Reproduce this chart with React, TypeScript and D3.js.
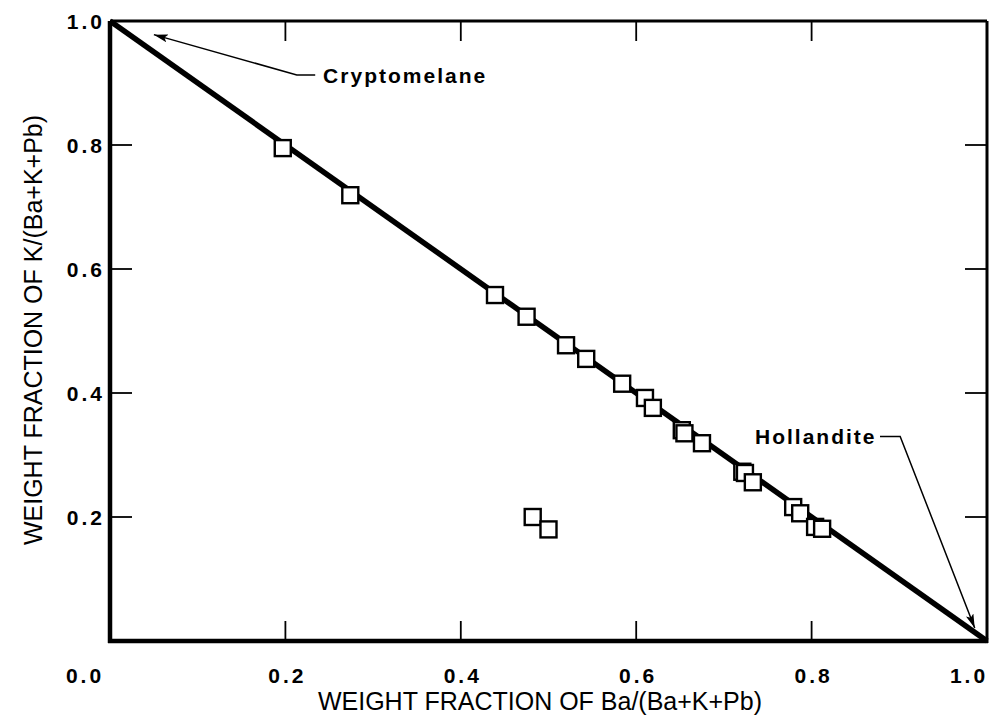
import * as d3 from "d3";

// measured points: weight fraction of Ba vs weight fraction of K
const baFraction = [
  0.197, 0.274, 0.439, 0.475, 0.52, 0.543, 0.584, 0.61, 0.619, 0.652, 0.655,
  0.675, 0.721, 0.724, 0.733, 0.779, 0.787, 0.804, 0.812, 0.482, 0.5,
];
const kFraction = [
  0.795, 0.719, 0.558, 0.523, 0.477, 0.455, 0.415, 0.392, 0.376, 0.34, 0.335,
  0.319, 0.273, 0.271, 0.256, 0.216, 0.206, 0.184, 0.181, 0.2, 0.18,
];

// end members joined by the mixing line
const lineBa = [0, 1];
const lineK = [1, 0];

const innerTicks = [0.2, 0.4, 0.6, 0.8];
const xTickLabels = ["0.2", "0.4", "0.6", "0.8"];
const yTicks = [0.2, 0.4, 0.6, 0.8, 1.0];
const yTickLabels = ["0.2", "0.4", "0.6", "0.8", "1.0"];

const width = 989;
const height = 726;

const App = () => {
  const x = d3.scaleLinear().domain([0, 1]).range([110, 987]);
  const y = d3.scaleLinear().domain([0, 1]).range([641, 21]);

  const points = baFraction.map((b, i) => ({ b, k: kFraction[i] }));
  const linePath = d3
    .line<number>()
    .x((d) => x(d))
    .y((_, i) => y(lineK[i]))(lineBa);

  const tickFont = {
    fontFamily: "'Liberation Sans', Arial, sans-serif",
    fontWeight: 700,
    fontSize: 21,
    letterSpacing: 3,
  };
  const titleFont = {
    fontFamily: "'Liberation Sans', Arial, sans-serif",
    fontSize: 25,
  };
  const noteFont = {
    fontFamily: "'Liberation Sans', Arial, sans-serif",
    fontWeight: 700,
    fontSize: 21,
    letterSpacing: 2,
  };

  const sq = 16;

  return (
    <svg
      width={width}
      height={height}
      style={{ position: "absolute", left: 0, top: 0, background: "#fff" }}
    >
      <defs>
        <marker
          id="head"
          viewBox="0 0 14 8"
          refX={14}
          refY={4}
          markerWidth={14}
          markerHeight={8}
          markerUnits="userSpaceOnUse"
          orient="auto"
        >
          <path d="M0,0 L14,4 L0,8 L3,4 Z" fill="#000" />
        </marker>
      </defs>

      {/* frame */}
      <line x1={x(0)} x2={x(1)} y1={y(1)} y2={y(1)} stroke="#000" strokeWidth={3} />
      <line x1={x(1)} x2={x(1)} y1={y(1)} y2={y(0) + 2} stroke="#000" strokeWidth={3} />
      <line x1={x(0)} x2={x(0)} y1={y(1)} y2={y(0) + 2} stroke="#000" strokeWidth={4.5} />
      <line x1={x(0) - 2} x2={x(1) + 1} y1={y(0)} y2={y(0)} stroke="#000" strokeWidth={4.5} />

      {/* inward ticks */}
      {innerTicks.map((t) => (
        <g key={"t" + t} stroke="#000" strokeWidth={1.8}>
          <line x1={x(t)} x2={x(t)} y1={y(0)} y2={y(0) - 20} />
          <line x1={x(t)} x2={x(t)} y1={y(1)} y2={y(1) + 20} />
          <line x1={x(0)} x2={x(0) + 22} y1={y(t)} y2={y(t)} />
          <line x1={x(1)} x2={x(1) - 22} y1={y(t)} y2={y(t)} />
        </g>
      ))}

      {/* tick labels */}
      {innerTicks.map((t, i) => (
        <text key={"xl" + t} x={x(t) + 2} y={683} textAnchor="middle" style={tickFont}>
          {xTickLabels[i]}
        </text>
      ))}
      <text x={85} y={683} textAnchor="middle" style={tickFont}>
        0.0
      </text>
      <text x={x(1) - 18} y={683} textAnchor="middle" style={tickFont}>
        1.0
      </text>
      {yTicks.map((t, i) => (
        <text
          key={"yl" + t}
          x={105}
          y={y(t)}
          dy="0.36em"
          textAnchor="end"
          style={tickFont}
        >
          {yTickLabels[i]}
        </text>
      ))}

      {/* axis titles */}
      <text x={540} y={710} textAnchor="middle" style={titleFont}>
        WEIGHT FRACTION OF Ba/(Ba+K+Pb)
      </text>
      <text
        transform={`translate(42,${330}) rotate(-90)`}
        textAnchor="middle"
        style={titleFont}
      >
        WEIGHT FRACTION OF K/(Ba+K+Pb)
      </text>

      {/* mixing line */}
      <path d={linePath || ""} stroke="#000" strokeWidth={5.5} fill="none" />

      {/* data squares */}
      {points.map((p, i) => (
        <rect
          key={i}
          x={x(p.b) - sq / 2}
          y={y(p.k) - sq / 2}
          width={sq}
          height={sq}
          fill="#fff"
          stroke="#000"
          strokeWidth={2.4}
        />
      ))}

      {/* annotations */}
      <polyline
        points={`${x(0.234)},${y(0.913)} ${x(0.213)},${y(0.913)} ${x(0.05)},${y(0.978)}`}
        fill="none"
        stroke="#000"
        strokeWidth={1.5}
        markerEnd="url(#head)"
      />
      <text x={x(0.243)} y={y(0.913)} dy="0.36em" style={noteFont}>
        Cryptomelane
      </text>

      <polyline
        points={`${x(0.878)},${y(0.33)} ${x(0.901)},${y(0.33)} ${x(0.986)},${y(0.021)}`}
        fill="none"
        stroke="#000"
        strokeWidth={1.5}
        markerEnd="url(#head)"
      />
      <text x={x(0.874)} y={y(0.33)} dy="0.36em" textAnchor="end" style={noteFont}>
        Hollandite
      </text>
    </svg>
  );
};

export default App;
